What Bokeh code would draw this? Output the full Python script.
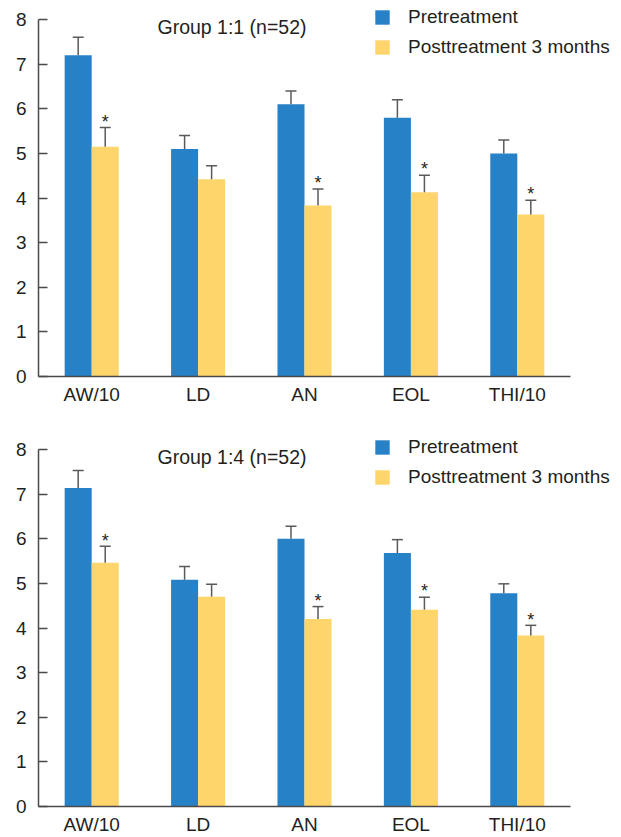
from bokeh.plotting import figure
from bokeh.models import (Range1d, Whisker, TeeHead, ColumnDataSource,
                          Legend, LegendItem, Label, FixedTicker)
from bokeh.layouts import column
from bokeh.embed import file_html
from bokeh.resources import INLINE
from bokeh.core.properties import value

# ---------------- data ----------------
categories = ["AW/10", "LD", "AN", "EOL", "THI/10"]
series_names = ["Pretreatment", "Posttreatment 3 months"]
titles = ["Group 1:1 (n=52)", "Group 1:4 (n=52)"]
y_ticks = [0, 1, 2, 3, 4, 5, 6, 7, 8]

g11_pre = [7.20, 5.10, 6.10, 5.80, 5.00]
g11_pre_sd = [0.40, 0.30, 0.30, 0.40, 0.30]
g11_post = [5.15, 4.42, 3.83, 4.13, 3.63]
g11_post_sd = [0.43, 0.30, 0.37, 0.38, 0.32]
g11_sig = [True, False, True, True, True]

g14_pre = [7.14, 5.08, 6.00, 5.68, 4.78]
g14_pre_sd = [0.39, 0.30, 0.28, 0.30, 0.21]
g14_post = [5.46, 4.70, 4.20, 4.41, 3.83]
g14_post_sd = [0.37, 0.28, 0.28, 0.28, 0.23]
g14_sig = [True, False, True, True, True]

# ---------------- style / layout ----------------
BLUE = "#2781c7"
YELLOW = "#fdd56a"
TXT = "#231f20"
AXC = "#4a4a4a"
ERRC = "#5a5a5a"
FONT = "Liberation Sans"
FS = "19px"
OFF = 0.127
BW = 0.254
W = 621
LEFT = 38
AXIS_PX_X = 532      # pixel length of the 5 categories
AXIS_PX_Y = 357      # pixel length of 0..8
YMAX = 8
NCAT = len(categories)


def make(title, pre, pre_sd, post, post_sd, sig, height, bottom):
    frame_w = W - LEFT
    frame_h = height - bottom
    x_end = NCAT * frame_w / AXIS_PX_X
    y_end = YMAX * frame_h / AXIS_PX_Y
    p = figure(x_range=Range1d(0, x_end), y_range=Range1d(0, y_end),
               width=W, height=height,
               min_border_left=LEFT, min_border_right=0, min_border_top=0,
               min_border_bottom=bottom, output_backend="svg", toolbar_location=None)
    p.outline_line_color = None
    p.xgrid.grid_line_color = None
    p.ygrid.grid_line_color = None

    xc = [i + 0.5 for i in range(NCAT)]
    src = ColumnDataSource(dict(
        x_pre=[x - OFF for x in xc], x_post=[x + OFF for x in xc],
        pre=pre, post=post,
        pre_hi=[m + s for m, s in zip(pre, pre_sd)],
        post_hi=[m + s for m, s in zip(post, post_sd)],
    ))
    r1 = p.vbar(x="x_pre", top="pre", width=BW, source=src,
                fill_color=BLUE, line_color=None)
    r2 = p.vbar(x="x_post", top="post", width=BW, source=src,
                fill_color=YELLOW, line_color=None)

    for xb, lo, hi in [("x_pre", "pre", "pre_hi"), ("x_post", "post", "post_hi")]:
        w = Whisker(base=xb, lower=lo, upper=hi, source=src,
                    line_color=ERRC, line_width=1.5,
                    upper_head=TeeHead(size=11, line_color=ERRC, line_width=1.5),
                    lower_head=None, level="glyph")
        p.add_layout(w)

    sx = [x + OFF for x, g in zip(xc, sig) if g]
    sy = [m + s + 0.13 for m, s, g in zip(post, post_sd, sig) if g]
    ssrc = ColumnDataSource(dict(x=sx, y=sy, t=["*"] * len(sx)))
    p.text(x="x", y="y", text="t", source=ssrc,
           text_align="center", text_baseline="alphabetic", text_font=value(FONT),
           text_font_size="18px", text_color=TXT)

    legend = Legend(items=[LegendItem(label=series_names[0], renderers=[r1]),
                           LegendItem(label=series_names[1], renderers=[r2])],
                    location=(335, 318), orientation="vertical",
                    glyph_width=18, glyph_height=18, label_height=18, label_width=10,
                    label_standoff=17, spacing=8, padding=0, margin=0,
                    border_line_color=None, background_fill_alpha=0,
                    label_text_font=FONT, label_text_font_size=FS, label_text_color=TXT)
    p.add_layout(legend, "center")

    p.add_layout(Label(x=193.5, y=AXIS_PX_Y - 7, x_units="screen", y_units="screen",
                       text=title, text_align="center", text_baseline="alphabetic",
                       text_font=FONT, text_font_size="19.5px", text_color=TXT))

    for ax in (p.xaxis[0], p.yaxis[0]):
        ax.axis_line_color = AXC
        ax.axis_line_width = 1.5
        ax.major_label_text_font = FONT
        ax.major_label_text_font_size = FS
        ax.major_label_text_color = TXT
        ax.minor_tick_line_color = None
    p.xaxis.bounds = (0, NCAT)
    p.xaxis.ticker = FixedTicker(ticks=xc)
    p.xaxis.major_label_overrides = {x: c for x, c in zip(xc, categories)}
    p.xaxis.major_tick_line_color = None
    p.xaxis.major_label_standoff = 1
    p.yaxis.bounds = (0, YMAX)
    p.yaxis.ticker = FixedTicker(ticks=y_ticks)
    p.yaxis.major_tick_in = 9
    p.yaxis.major_tick_out = 0
    p.yaxis.major_tick_line_color = AXC
    p.yaxis.major_tick_line_width = 1.5
    p.yaxis.major_label_standoff = 12
    return p


p1 = make(titles[0], g11_pre, g11_pre_sd, g11_post, g11_post_sd, g11_sig, 434, 58)
p2 = make(titles[1], g14_pre, g14_pre_sd, g14_post, g14_post_sd, g14_sig, 403, 31)
layout = column(p1, p2, spacing=0)

open("out.html", "w").write(file_html(layout, INLINE))
